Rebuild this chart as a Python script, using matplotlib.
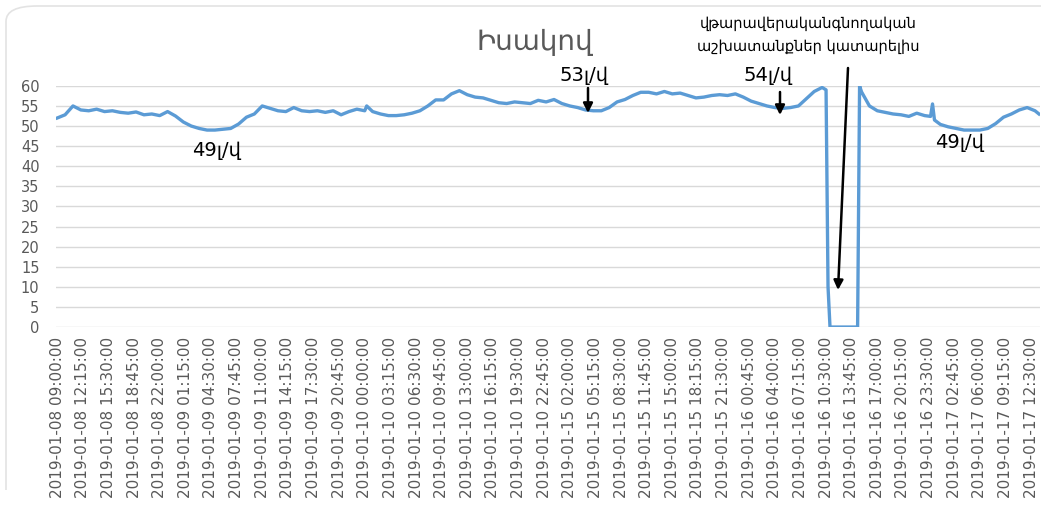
import numpy as np
import pandas as pd
import matplotlib
matplotlib.use("Agg")
import matplotlib.pyplot as plt
from matplotlib.patches import FancyBboxPatch
from matplotlib.transforms import Bbox

# 15 минутные отсчёты, разрыв 11-15 января
stamps = pd.date_range("2019-01-08 09:00", "2019-01-11 00:45", freq="15min").append(
    pd.date_range("2019-01-15 01:00", "2019-01-17 13:30", freq="15min"))

# hourly readings (every 4th stamp), l/min
flow_hourly = [
    52.0, 52.8, 55.0, 54.0, 53.8, 54.2, 53.6, 53.8, 53.4, 53.2,
    53.5, 52.8, 53.0, 52.6, 53.6, 52.5, 51.0, 50.0, 49.4, 49.0,
    49.0, 49.2, 49.4, 50.5, 52.2, 53.0, 55.0, 54.4, 53.8, 53.6,
    54.6, 53.8, 53.6, 53.8, 53.4, 53.8, 52.8, 53.6, 54.2, 53.8,
    53.6, 53.0, 52.6, 52.6, 52.8, 53.2, 53.8, 55.0, 56.5, 56.5,
    58.0, 58.8, 57.8, 57.2, 57.0, 56.4, 55.8, 55.6, 56.0, 55.8,
    55.6, 56.4, 56.0, 56.6, 55.6, 55.0, 54.6, 54.0, 53.8, 53.8,
    54.6, 56.0, 56.6, 57.6, 58.4, 58.4, 58.0, 58.6, 58.0, 58.2,
    57.6, 57.0, 57.2, 57.6, 57.8, 57.6, 58.0, 57.2, 56.2, 55.6,
    55.0, 54.6, 54.4, 54.6, 55.0, 56.8, 58.6, 59.6, 0.0, 0.0,
    0.0, 0.0, 58.5, 55.0, 53.8, 53.4, 53.0, 52.8, 52.4, 53.2,
    52.6, 55.5, 50.4, 49.8, 49.4, 49.0, 49.0, 49.0, 49.4, 50.6,
    52.2, 53.0, 54.0, 54.6, 53.8,
]
# extra 15-min readings around the outage and spikes
extra_times = ["2019-01-10 00:15", "2019-01-16 10:30", "2019-01-16 10:45",
               "2019-01-16 14:30", "2019-01-16 14:45", "2019-01-16 23:45",
               "2019-01-17 00:15", "2019-01-17 13:30"]
extra_values = [55.0, 59.0, 10.0, 0.0, 60.0, 52.4, 51.5, 53.0]

readings = pd.concat([
    pd.Series(flow_hourly, index=stamps[::4]),
    pd.Series(extra_values, index=pd.to_datetime(extra_times)),
]).sort_index()
pos = stamps.get_indexer(readings.index)

tick_pos = np.arange(0, len(stamps), 13)
tick_labels = [stamps[i].strftime("%Y-%m-%d %H:%M:%S") for i in tick_pos]

plt.rcParams["font.family"] = ["DejaVu Sans"]
fig = plt.figure(figsize=(10.41, 5.11), dpi=100)
ax = fig.add_axes([0.054, 0.360, 0.945, 0.472])

ax.plot(pos, readings.values, color="#5B9BD5", lw=2.4, solid_joinstyle="round")

ax.set_xlim(-0.5, len(stamps) - 0.5)
ax.set_ylim(0, 60)
ax.set_yticks(range(0, 61, 5))
ax.set_xticks(tick_pos)
ax.set_xticklabels(tick_labels, rotation=90, fontsize=11, color="#595959")
ax.tick_params(axis="y", labelsize=10.5, labelcolor="#595959", length=0, pad=12)
ax.tick_params(axis="x", length=0, pad=7)
ax.grid(axis="y", color="#D9D9D9", lw=1)
ax.set_axisbelow(True)
for s in ax.spines.values():
    s.set_visible(False)

fig.text(535 / 1041, 1 - 42 / 511, "Իսակով", fontsize=20, color="#595959",
         ha="center", va="center")

def px(x, y):
    return (x / 1041, 1 - y / 511)

for txt, (x, y) in [("49լ/վ", (217, 150)), ("53լ/վ", (584, 75)),
                    ("54լ/վ", (768, 75)), ("49լ/վ", (960, 142))]:
    fig.text(*px(x, y), txt, fontsize=14, ha="center", va="center")

fig.text(*px(808, 35), "վթարավերականգնողական\nաշխատանքներ կատարելիս",
         fontsize=10.5, ha="center", va="center", linespacing=1.6)

arrows = [((588, 88), (588, 113)), ((780, 92), (780, 115)), ((848, 68), (838, 290))]
for (x0, y0), (x1, y1) in arrows:
    fig.add_artist(plt.Annotation("", xy=px(x1, y1), xytext=px(x0, y0),
                                  xycoords="figure fraction", textcoords="figure fraction",
                                  arrowprops=dict(arrowstyle="-|>", color="black", lw=1.8,
                                                  mutation_scale=14, shrinkA=0, shrinkB=0)))

# рамка области диаграммы, видны только верх и левый край
frame = FancyBboxPatch((6 / 1041, -0.3), 1.2, 1.3 - 6 / 511,
                       boxstyle="round,pad=0,rounding_size=0.03",
                       transform=fig.transFigure, fill=False, ec="#E3E3E3", lw=1.2)
fig.add_artist(frame)
frame.set_clip_box(Bbox.from_extents(0, 21, 1041, 511))

fig.savefig("out.png", dpi=100)
